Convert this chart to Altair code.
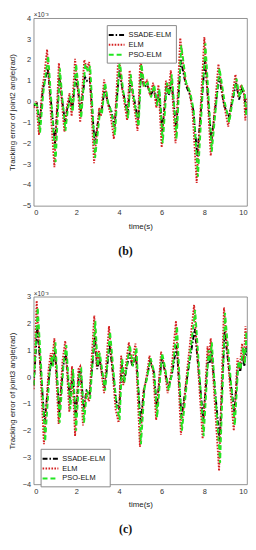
import altair as alt
import pandas as pd

SERIES = ["SSADE-ELM", "ELM", "PSO-ELM"]
COLORS = ["#000000", "#d42020", "#22e622"]
DASHES = [[5, 2, 1.5, 2], [1.6, 1.4], [5, 3]]

# ---------------- panel (b): joint2 ----------------
b_elm_t = [0.0, 0.12, 0.25, 0.4, 0.5, 0.63, 0.8, 0.97, 1.18, 1.3, 1.44, 1.55, 1.68, 1.78, 1.94, 2.08, 2.18, 2.37, 2.5, 2.6,
           2.83, 3.07, 3.15, 3.3, 3.45, 3.6, 3.76, 3.98, 4.15, 4.38, 4.5, 4.65, 4.87, 5.0, 5.15, 5.3, 5.45, 5.6, 5.75, 5.85,
           6.0, 6.2, 6.3, 6.43, 6.65, 6.87, 7.1, 7.3, 7.45, 7.64, 8.0, 8.3, 8.66, 8.9, 9.12, 9.3, 9.46, 9.6, 9.72, 9.85,
           9.92, 10.0]
b_elm_v = [-0.3, 0.0, -1.6, 0.6, 1.3, 2.5, -0.5, -3.15, 1.85, 0.2, -1.45, -0.3, 0.4, -0.7, 2.05, 0.5, -1.0, 2.0, 1.6, 1.9,
           -2.95, -0.3, -0.7, 1.05, 0.0, -0.6, -1.8, 2.35, 0.6, -0.9, 1.5, 0.2, -1.4, 2.1, 0.8, 1.0, 0.3, 0.9, -0.3, 0.8,
           -2.2, 1.0, 0.4, 1.5, -2.0, 3.05, 1.0, 0.5, -0.5, -3.9, 3.1, -2.6, 1.8, 0.0, -1.2, 0.2, 1.3, 0.2, 0.8, 0.5,
           -0.9, 0.2]
b_pso_t = [0.0, 0.17, 0.3, 0.45, 0.55, 0.68, 0.85, 1.03, 1.23, 1.35, 1.49, 1.6, 1.73, 1.83, 1.99, 2.13, 2.23, 2.42, 2.55, 2.65,
           2.88, 3.12, 3.2, 3.35, 3.5, 3.65, 3.81, 4.03, 4.2, 4.43, 4.55, 4.7, 4.92, 5.05, 5.2, 5.35, 5.5, 5.65, 5.8, 5.9,
           6.05, 6.25, 6.35, 6.48, 6.7, 6.92, 7.15, 7.35, 7.5, 7.7, 8.05, 8.35, 8.71, 8.95, 9.17, 9.35, 9.51, 9.65, 9.77, 9.9,
           9.97, 10.0]
b_pso_v = [-0.1, -0.2, -1.5, 0.4, 1.2, 2.2, -0.3, -2.9, 1.6, 0.1, -1.4, -0.4, 0.3, -0.5, 1.8, 0.4, -0.8, 1.8, 1.4, 1.7,
           -2.7, -0.4, -0.6, 0.9, -0.1, -0.5, -1.6, 2.0, 0.5, -0.8, 1.3, 0.1, -1.2, 1.8, 0.7, 0.9, 0.2, 0.8, -0.2, 0.6,
           -2.0, 0.9, 0.3, 1.3, -1.8, 2.7, 0.9, 0.4, -0.4, -3.6, 2.8, -2.4, 1.6, 0.0, -1.0, 0.2, 1.1, 0.2, 0.7, 0.4,
           -0.7, -0.2]
b_ssa_t = [0.0, 0.15, 0.28, 0.43, 0.53, 0.66, 0.83, 1.0, 1.21, 1.33, 1.47, 1.58, 1.71, 1.81, 1.97, 2.11, 2.21, 2.4, 2.5, 2.63,
           2.86, 3.1, 3.18, 3.33, 3.48, 3.63, 3.79, 4.01, 4.18, 4.41, 4.53, 4.68, 4.9, 5.03, 5.18, 5.33, 5.48, 5.63, 5.78, 5.88,
           6.03, 6.23, 6.33, 6.46, 6.68, 6.9, 7.13, 7.33, 7.48, 7.67, 8.03, 8.33, 8.69, 8.93, 9.15, 9.33, 9.49, 9.63, 9.75, 9.88,
           9.95, 10.0]
b_ssa_v = [-0.2, -0.1, -1.1, 0.6, 1.0, 1.6, -0.2, -2.0, 1.2, 0.1, -1.0, -0.3, 0.2, -0.4, 1.3, 0.3, -0.5, 1.2, 1.0, 1.1,
           -2.0, -0.4, -0.5, 0.7, -0.1, -0.4, -1.2, 1.5, 0.5, -0.6, 1.0, 0.3, -1.0, 1.4, 0.7, 0.8, 0.3, 0.6, -0.1, 0.5,
           -1.4, 0.8, 0.3, 1.0, -1.3, 2.0, 0.8, 0.3, -0.4, -2.6, 2.0, -1.9, 1.2, -0.2, -0.7, 0.1, 0.9, 0.1, 0.6, 0.3,
           -0.6, -0.3]

# ---------------- panel (c): joint3 ----------------
c_elm_t = [0.0, 0.14, 0.28, 0.48, 0.7, 0.8, 0.85, 0.97, 1.17, 1.35, 1.48, 1.67, 1.8, 1.94, 2.1, 2.18, 2.31, 2.45, 2.6, 2.84,
           2.95, 3.05, 3.3, 3.53, 3.84, 3.98, 4.1, 4.2, 4.46, 4.6, 4.77, 4.98, 5.15, 5.25, 5.43, 5.6, 5.74, 5.97, 6.1, 6.28,
           6.45, 6.67, 6.9, 7.2, 7.52, 7.92, 8.15, 8.22, 8.3, 8.69, 8.92, 9.2, 9.38, 9.55, 9.65, 9.77, 9.85, 9.93, 10.0]
c_elm_v = [-0.45, 2.85, 0.8, -2.5, 0.3, 0.9, 0.5, 1.45, -1.75, 0.6, 1.35, -1.3, 0.4, -2.2, 0.3, 0.4, -1.8, -0.6, -0.9, 2.3,
           0.4, 1.0, -0.6, 1.9, -1.2, -1.7, 0.8, -0.3, 1.3, 0.5, 1.25, -2.6, -0.5, -0.2, 0.8, 0.2, -1.6, 0.95, 0.5, -0.6,
           0.2, 2.1, -2.15, 0.3, 2.7, -2.3, 1.15, 0.7, 1.45, -3.5, 2.6, -0.3, -2.0, 0.7, 0.3, 1.25, 0.6, 1.9, 1.1]
c_pso_t = [0.0, 0.19, 0.33, 0.54, 0.75, 0.85, 0.9, 1.02, 1.22, 1.4, 1.53, 1.72, 1.85, 1.99, 2.15, 2.23, 2.36, 2.5, 2.65, 2.89,
           3.0, 3.1, 3.35, 3.58, 3.89, 4.03, 4.15, 4.25, 4.51, 4.65, 4.82, 5.03, 5.2, 5.3, 5.48, 5.65, 5.79, 6.02, 6.15, 6.33,
           6.5, 6.72, 6.95, 7.25, 7.57, 7.97, 8.2, 8.27, 8.35, 8.74, 8.97, 9.25, 9.43, 9.6, 9.7, 9.82, 9.9, 9.97, 10.0]
c_pso_v = [-0.3, 2.6, 0.7, -2.4, 0.2, 0.8, 0.4, 1.3, -1.7, 0.5, 1.2, -1.2, 0.3, -2.0, 0.2, 0.3, -1.7, -0.5, -0.8, 2.1,
           0.4, 0.9, -0.5, 1.7, -1.1, -1.6, 0.7, -0.2, 1.2, 0.4, 1.1, -2.5, -0.4, -0.1, 0.7, 0.2, -1.5, 0.9, 0.4, -0.5,
           0.2, 1.9, -2.0, 0.3, 2.5, -2.2, 1.0, 0.6, 1.3, -3.2, 2.4, -0.2, -1.8, 0.6, 0.3, 1.1, 0.5, 1.7, 1.2]
c_ssa_t = [0.0, 0.17, 0.31, 0.51, 0.73, 0.83, 0.88, 1.0, 1.2, 1.38, 1.51, 1.7, 1.83, 1.97, 2.13, 2.21, 2.34, 2.48, 2.63, 2.87,
           2.98, 3.08, 3.33, 3.56, 3.87, 4.01, 4.13, 4.23, 4.49, 4.63, 4.8, 5.01, 5.18, 5.28, 5.46, 5.63, 5.77, 6.0, 6.13, 6.31,
           6.48, 6.7, 6.93, 7.23, 7.55, 7.95, 8.18, 8.25, 8.33, 8.72, 8.95, 9.23, 9.41, 9.58, 9.68, 9.8, 9.88, 9.95, 10.0]
c_ssa_v = [-0.3, 1.9, 0.5, -1.7, 0.1, 0.6, 0.4, 1.0, -1.3, 0.4, 0.9, -0.9, 0.2, -1.5, 0.2, 0.2, -1.2, -0.5, -0.6, 1.5,
           0.3, 0.7, -0.4, 1.2, -0.9, -1.2, 0.5, -0.2, 0.9, 0.4, 0.8, -1.7, -0.4, -0.1, 0.6, 0.2, -1.1, 0.7, 0.3, -0.4,
           0.1, 1.2, -1.5, 0.2, 1.8, -1.6, 0.8, 0.5, 1.0, -2.4, 1.7, -0.2, -1.3, 0.5, 0.2, 0.8, 0.4, 1.1, 0.8]

X_TICKS = [0, 2, 4, 6, 8, 10]
B_Y_TICKS = [-5, -4, -3, -2, -1, 0, 1, 2, 3, 4]
C_Y_TICKS = [-4, -3, -2, -1, 0, 1, 2, 3]

FONT = "Liberation Sans"


def build_df(parts):
    rows = []
    for name, ts, vs in parts:
        for t, v in zip(ts, vs):
            rows.append({"s": name, "t": t, "v": v})
    return pd.DataFrame(rows)


def panel(df, ydom, yticks, ytitle, caption, lx, ly):
    leg = alt.Legend(title=None, orient="none", legendX=lx, legendY=ly,
                     symbolType="M-1.6,0H1.6", symbolStrokeWidth=2, symbolSize=100,
                     labelFontSize=7.5, labelFont=FONT, labelColor="#111",
                     fillColor="white", strokeColor="#888", padding=4,
                     rowPadding=0, labelOffset=6)
    lines = alt.Chart(df).mark_line(strokeWidth=1.9, clip=True).encode(
        x=alt.X("t:Q", scale=alt.Scale(domain=[0, 10], nice=False),
                axis=alt.Axis(values=X_TICKS, tickCount=len(X_TICKS), title="time(s)", labelOverlap=False)),
        y=alt.Y("v:Q", scale=alt.Scale(domain=ydom, nice=False),
                axis=alt.Axis(values=yticks, tickCount=len(yticks), title=ytitle, labelOverlap=False)),
        color=alt.Color("s:N", scale=alt.Scale(domain=SERIES, range=COLORS), legend=leg),
        strokeDash=alt.StrokeDash("s:N", scale=alt.Scale(domain=SERIES, range=DASHES), legend=leg),
    )
    expo = alt.Chart(pd.DataFrame({"lab": ["\u00d710\u207b\u00b3"]})).mark_text(
        align="left", baseline="bottom", dy=0, fontSize=6.5, font=FONT, color="#333"
    ).encode(x=alt.datum(0), y=alt.datum(ydom[1]), text="lab:N")
    return alt.layer(lines, expo).properties(
        width=216, height=190,
        title=alt.TitleParams(caption, orient="bottom", font="Liberation Serif", fontSize=12,
                              fontWeight="bold", color="#111", offset=16, dx=-15),
    )


df_b = build_df([("SSADE-ELM", b_ssa_t, b_ssa_v), ("ELM", b_elm_t, b_elm_v), ("PSO-ELM", b_pso_t, b_pso_v)])
df_c = build_df([("SSADE-ELM", c_ssa_t, c_ssa_v), ("ELM", c_elm_t, c_elm_v), ("PSO-ELM", c_pso_t, c_pso_v)])

top = panel(df_b, [-5, 4], B_Y_TICKS, "Tracking error of joint2 angle(rad)", "(b)", 74, 7)
bot = panel(df_c, [-4, 3], C_Y_TICKS, "Tracking error of joint3 angle(rad)", "(c)", 7, 154)

chart = alt.vconcat(top, bot, spacing=33).properties(padding=0).resolve_scale(
    color="independent", strokeDash="independent"
).configure_view(stroke="#777", strokeWidth=0.8).configure_axis(
    grid=False, domain=False, ticks=False, labelFont=FONT, labelFontSize=7.5, labelColor="#333",
    labelPadding=3, labelOverlap=False, titleFont=FONT, titleFontSize=8, titleFontWeight="normal",
    titleColor="#222", titlePadding=6
)

chart.save("out.html", embed_options={"renderer": "svg", "actions": False})
